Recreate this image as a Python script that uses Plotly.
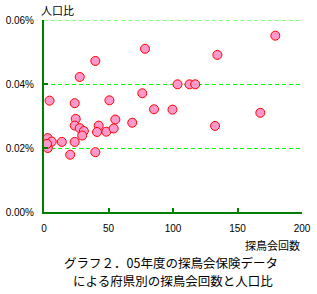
import plotly.graph_objects as go

# 探鳥会回数 (x) and 人口比 in % (y)
meetings = [4.3, 23.8, 50.7, 27.7, 39.8, 78.3, 76.2, 85.3, 99.6, 103.5,
            112.8, 117.2, 134.4, 179.3, 167.7, 132.6, 24.6, 55.3, 68.4, 23.8,
            27.7, 30.9, 29.6, 42.4, 41.1, 48.3, 54.0, 2.9, 6.0, 13.8,
            23.8, 2.9, 20.3, 39.8, 2.3]
ratio = [0.0348, 0.0340, 0.0349, 0.0422, 0.0472, 0.0510, 0.0371, 0.0321, 0.0320, 0.0399,
         0.0399, 0.0399, 0.0491, 0.0551, 0.0310, 0.0269, 0.0291, 0.0289, 0.0279, 0.0270,
         0.0262, 0.0253, 0.0239, 0.0270, 0.0250, 0.0251, 0.0261, 0.0231, 0.0220, 0.0219,
         0.0219, 0.0200, 0.0179, 0.0187, 0.0213]

x_ticks = [0, 50, 100, 150, 200]
y_ticks = [0.0, 0.02, 0.04, 0.06]
y_title = "人口比"
x_title = "探鳥会回数"
caption = ["グラフ２．05年度の探鳥会保険データ", "による府県別の探鳥会回数と人口比"]

GREEN = "#008000"
LIME = "#00ff00"
DASH = "4px,3px"
TICKFONT = dict(family="Liberation Sans", size=10, color="black")
CJK = "Noto Sans CJK JP"

fig = go.Figure()
fig.add_trace(go.Scatter(
    x=meetings, y=ratio, mode="markers",
    marker=dict(size=9, color="#ff99cc", line=dict(color="#ff0000", width=1)),
    showlegend=False, cliponaxis=False,
))

fig.update_layout(
    width=317, height=294,
    margin=dict(l=44, r=15, t=20, b=82, autoexpand=False),
    paper_bgcolor="white", plot_bgcolor="white",
    xaxis=dict(range=[x_ticks[0], x_ticks[-1]], tickvals=x_ticks, ticktext=[str(v) for v in x_ticks],
               showgrid=False, zeroline=False, showline=True, linecolor=GREEN, linewidth=2,
               ticks="inside", ticklen=4, tickwidth=2, tickcolor=GREEN, automargin=False,
               tickfont=TICKFONT, ticklabelstandoff=6, fixedrange=True),
    yaxis=dict(range=[y_ticks[0], y_ticks[-1]], tickvals=y_ticks,
               ticktext=[f"{v:.2f}%" for v in y_ticks],
               showgrid=True, gridcolor=LIME, griddash=DASH, gridwidth=1,
               zeroline=False, showline=True, linecolor=GREEN, linewidth=2,
               ticks="inside", ticklen=4, tickwidth=2, tickcolor=GREEN, automargin=False,
               tickfont=TICKFONT, ticklabelstandoff=6, fixedrange=True),
)

# top gridline (plotly drops the grid line at the range edge)
fig.add_shape(type="line", xref="x", yref="y", x0=x_ticks[0], x1=x_ticks[-1],
              y0=y_ticks[-1], y1=y_ticks[-1], layer="below",
              line=dict(color=LIME, width=1, dash=DASH))

annotations = [
    dict(text=y_title, xref="paper", yref="paper", x=0, y=1, xanchor="left", yanchor="bottom",
         xshift=-5, yshift=0, showarrow=False, font=dict(family=CJK, size=11, color="black")),
    dict(text=x_title, xref="paper", yref="paper", x=1, y=0, xanchor="right", yanchor="top",
         yshift=-23, showarrow=False, font=dict(family=CJK, size=11, color="black")),
    dict(text=caption[0], xref="paper", yref="paper", x=0.5, y=0,
         xanchor="center", yanchor="middle",
         xshift=-2, yshift=-50, showarrow=False,
         font=dict(family=CJK, size=12.5, color="black")),
    dict(text=caption[1], xref="paper", yref="paper", x=0.5, y=0,
         xanchor="center", yanchor="middle",
         xshift=0, yshift=-68.5, showarrow=False,
         font=dict(family=CJK, size=12.5, color="black")),
]
fig.update_layout(annotations=annotations)

fig.write_html("out.html", config={"displayModeBar": False})
